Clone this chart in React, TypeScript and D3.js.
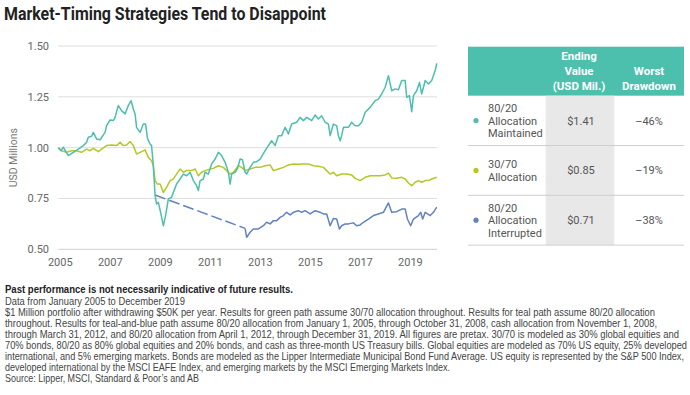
import React from 'react';
import * as d3 from 'd3';

// [decimal year, USD millions]
const maintained: [number, number][] = [
  [2005.0, 1.0], [2005.11, 0.985], [2005.2, 1.002], [2005.4, 0.961], [2005.6, 0.977], [2005.8, 0.993],
  [2006.0, 1.01], [2006.13, 1.026], [2006.2, 1.051], [2006.33, 1.056], [2006.4, 1.075], [2006.53, 1.043],
  [2006.67, 1.039], [2006.87, 1.075], [2006.93, 1.108], [2007.07, 1.136], [2007.2, 1.133], [2007.27, 1.149],
  [2007.4, 1.207], [2007.53, 1.182], [2007.67, 1.166], [2007.8, 1.207], [2007.91, 1.231], [2008.0, 1.19],
  [2008.07, 1.166], [2008.13, 1.1], [2008.27, 1.075], [2008.4, 1.116], [2008.49, 1.116], [2008.57, 1.043],
  [2008.67, 1.018], [2008.73, 1.01], [2008.8, 0.911], [2008.87, 0.764], [2008.93, 0.723], [2009.0, 0.731],
  [2009.09, 0.682], [2009.2, 0.616], [2009.29, 0.666], [2009.4, 0.748], [2009.53, 0.756], [2009.6, 0.78],
  [2009.73, 0.821], [2009.87, 0.846], [2010.0, 0.87], [2010.13, 0.862], [2010.27, 0.879], [2010.4, 0.838],
  [2010.53, 0.813], [2010.6, 0.789], [2010.67, 0.838], [2010.8, 0.846], [2010.87, 0.879], [2011.0, 0.87],
  [2011.13, 0.92], [2011.27, 0.944], [2011.4, 0.977], [2011.53, 0.961], [2011.67, 0.928], [2011.8, 0.879],
  [2011.87, 0.821], [2011.93, 0.87], [2012.07, 0.879], [2012.16, 0.895], [2012.27, 0.944], [2012.36, 0.941],
  [2012.47, 0.879], [2012.53, 0.87], [2012.67, 0.903], [2012.8, 0.928], [2012.93, 0.931], [2013.07, 0.944],
  [2013.27, 0.985], [2013.4, 1.01], [2013.53, 1.034], [2013.67, 1.01], [2013.8, 1.059], [2013.93, 1.059],
  [2014.07, 1.1], [2014.2, 1.067], [2014.33, 1.116], [2014.53, 1.125], [2014.67, 1.149], [2014.8, 1.133],
  [2014.93, 1.149], [2015.13, 1.133], [2015.27, 1.161], [2015.4, 1.141], [2015.53, 1.157], [2015.67, 1.125],
  [2015.8, 1.116], [2015.87, 1.059], [2016.0, 1.116], [2016.13, 1.108], [2016.2, 1.059], [2016.27, 1.034],
  [2016.33, 1.059], [2016.4, 1.1], [2016.6, 1.1], [2016.73, 1.125], [2016.87, 1.108], [2017.0, 1.108],
  [2017.13, 1.125], [2017.27, 1.174], [2017.47, 1.198], [2017.67, 1.231], [2017.8, 1.239], [2017.93, 1.264],
  [2018.07, 1.297], [2018.2, 1.354], [2018.33, 1.28], [2018.47, 1.289], [2018.6, 1.285], [2018.73, 1.33],
  [2018.87, 1.33], [2018.93, 1.248], [2019.04, 1.256], [2019.13, 1.177], [2019.2, 1.256], [2019.33, 1.28],
  [2019.44, 1.321], [2019.53, 1.264], [2019.67, 1.33], [2019.8, 1.313], [2019.93, 1.33], [2020.07, 1.379],
  [2020.13, 1.415],
];

const conservative: [number, number][] = [
  [2005.0, 1.0], [2005.13, 0.985], [2005.33, 0.977], [2005.53, 0.985], [2005.73, 0.985], [2005.93, 0.977],
  [2006.13, 0.993], [2006.27, 0.985], [2006.4, 0.997], [2006.6, 0.98], [2006.73, 0.993], [2006.93, 1.01],
  [2007.13, 1.013], [2007.33, 1.01], [2007.47, 1.026], [2007.6, 1.01], [2007.73, 1.013], [2007.87, 1.03],
  [2008.0, 1.01], [2008.13, 0.969], [2008.27, 0.977], [2008.47, 0.989], [2008.6, 0.952], [2008.73, 0.936],
  [2008.8, 0.911], [2008.87, 0.838], [2008.96, 0.821], [2009.07, 0.821], [2009.2, 0.78], [2009.33, 0.805],
  [2009.47, 0.838], [2009.6, 0.846], [2009.73, 0.87], [2009.87, 0.895], [2010.0, 0.879], [2010.13, 0.887],
  [2010.33, 0.887], [2010.47, 0.895], [2010.6, 0.862], [2010.73, 0.879], [2010.87, 0.887], [2011.0, 0.892],
  [2011.2, 0.898], [2011.4, 0.911], [2011.6, 0.903], [2011.73, 0.887], [2011.87, 0.87], [2012.0, 0.879],
  [2012.2, 0.911], [2012.33, 0.903], [2012.47, 0.887], [2012.67, 0.895], [2012.87, 0.903], [2013.07, 0.903],
  [2013.27, 0.911], [2013.47, 0.915], [2013.6, 0.887], [2013.8, 0.895], [2014.0, 0.903], [2014.2, 0.915],
  [2014.4, 0.92], [2014.6, 0.918], [2014.8, 0.92], [2015.0, 0.92], [2015.2, 0.911], [2015.4, 0.908],
  [2015.6, 0.903], [2015.73, 0.887], [2015.87, 0.87], [2016.0, 0.879], [2016.13, 0.862], [2016.33, 0.87],
  [2016.53, 0.87], [2016.73, 0.866], [2016.87, 0.849], [2017.07, 0.838], [2017.27, 0.854], [2017.47, 0.862],
  [2017.67, 0.862], [2017.87, 0.862], [2018.07, 0.866], [2018.2, 0.875], [2018.33, 0.851], [2018.53, 0.849],
  [2018.73, 0.854], [2018.87, 0.846], [2019.0, 0.826], [2019.13, 0.813], [2019.27, 0.83], [2019.4, 0.838],
  [2019.53, 0.83], [2019.67, 0.838], [2019.8, 0.838], [2019.93, 0.846], [2020.13, 0.854],
];

// cash period, Nov 2008 - Mar 2012 (dashed)
const interruptedCash: [number, number][] = [
  [2008.87, 0.767], [2012.47, 0.603],
];

const interrupted: [number, number][] = [
  [2012.47, 0.603], [2012.53, 0.559], [2012.67, 0.584], [2012.8, 0.6], [2013.0, 0.6], [2013.2, 0.616],
  [2013.33, 0.633], [2013.47, 0.625], [2013.6, 0.641], [2013.73, 0.641], [2013.87, 0.657], [2014.0, 0.666],
  [2014.13, 0.682], [2014.27, 0.669], [2014.4, 0.682], [2014.6, 0.69], [2014.73, 0.682], [2014.87, 0.69],
  [2015.07, 0.674], [2015.27, 0.69], [2015.47, 0.682], [2015.6, 0.674], [2015.73, 0.674], [2015.87, 0.616],
  [2016.0, 0.652], [2016.13, 0.649], [2016.24, 0.6], [2016.33, 0.616], [2016.47, 0.625], [2016.6, 0.625],
  [2016.8, 0.63], [2016.93, 0.616], [2017.07, 0.62], [2017.2, 0.633], [2017.4, 0.649], [2017.6, 0.666],
  [2017.8, 0.674], [2018.0, 0.682], [2018.2, 0.728], [2018.33, 0.682], [2018.53, 0.685], [2018.73, 0.698],
  [2018.87, 0.698], [2018.96, 0.649], [2019.09, 0.616], [2019.2, 0.649], [2019.4, 0.666], [2019.49, 0.682],
  [2019.57, 0.649], [2019.67, 0.682], [2019.87, 0.666], [2020.0, 0.682], [2020.13, 0.707],
];

const yTicks = [0.5, 0.75, 1.0, 1.25, 1.5];
const xTicks = [2005, 2007, 2009, 2011, 2013, 2015, 2017, 2019];

const rowLabels = [
  ['80/20', 'Allocation', 'Maintained'],
  ['30/70', 'Allocation'],
  ['80/20', 'Allocation', 'Interrupted'],
];
const endingValues = ['$1.41', '$0.85', '$0.71'];
const worstDrawdowns = ['\u201346%', '\u201319%', '\u201338%'];

// text, right end of the line in px
const footnotes: [string, number][] = [
  ['Data from January 2005 to December 2019', 185],
  ['$1 Million portfolio after withdrawing $50K per year. Results for green path assume 30/70 allocation throughout. Results for teal path assume 80/20 allocation', 655],
  ['throughout. Results for teal-and-blue path assume 80/20 allocation from January 1, 2005, through October 31, 2008, cash allocation from November 1, 2008,', 657],
  ['through March 31, 2012, and 80/20 allocation from April 1, 2012, through December 31, 2019. All figures are pretax. 30/70 is modeled as 30% global equities and', 679],
  ['70% bonds, 80/20 as 80% global equities and 20% bonds, and cash as three-month US Treasury bills. Global equities are modeled as 70% US equity, 25% developed', 687],
  ['international, and 5% emerging markets. Bonds are modeled as the Lipper Intermediate Municipal Bond Fund Average. US equity is represented by the S&P 500 Index,', 684],
  ['developed international by the MSCI EAFE Index, and emerging markets by the MSCI Emerging Markets Index.', 450],
  ['Source: Lipper, MSCI, Standard & Poor\u2019s and AB', 199],
];

const TEAL = '#4dbfad';
const GREEN = '#b5c724';
const BLUE = '#6282c1';
const seriesColors = [TEAL, GREEN, BLUE];

const W = 690;
const H = 395;
const font = 'Roboto, "DejaVu Sans", sans-serif';
const noteFont = '"Liberation Sans", Arial, sans-serif';
const SX = 0.82; // condensed look of the notes

export default function App() {
  const x = d3.scaleLinear().domain([2005, 2020.13]).range([58.3, 436.7]);
  const y = d3.scaleLinear().domain([0.5, 1.5]).range([249.3, 46]);
  const line = d3.line<[number, number]>().x(d => x(d[0])).y(d => y(d[1]));

  // table layout
  const tLeft = 468, tRight = 684;
  const headTop = 46.7, headBottom = 95.7;
  const rowH = 49.8;
  const colEnd = 579, colDraw = 649;

  return (
    <svg width={W} height={H} style={{ position: 'absolute', left: 0, top: 0, background: '#fff' }}
      fontFamily={font}>
      <text transform="translate(4,20) scale(0.92,1)" fontSize={18} fontWeight={700} fill="#222"
        textLength={322 / 0.92} lengthAdjust="spacingAndGlyphs">Market-Timing Strategies Tend to Disappoint</text>

      {yTicks.map(t => (
        <g key={t}>
          <line x1={58.3} x2={437} y1={y(t)} y2={y(t)} stroke={t === 0.5 ? '#d0d0d0' : '#dedede'} strokeWidth={1} />
          <text x={49} y={y(t) + 4} fontSize={11} fill="#666" textAnchor="end">{t.toFixed(2)}</text>
        </g>
      ))}
      {xTicks.map(t => (
        <text key={t} x={x(t) + 2} y={266} fontSize={11} fill="#666" textAnchor="middle">{t}</text>
      ))}
      <text transform={`translate(17,${(y(0.5) + y(1.5)) / 2 + 10}) rotate(-90)`} fontSize={10.5} fill="#777"
        textAnchor="middle">USD Millions</text>

      <path d={line(conservative) || ''} fill="none" stroke={GREEN} strokeWidth={1.5} strokeLinejoin="round" />
      <path d={line(interruptedCash) || ''} fill="none" stroke={BLUE} strokeWidth={1.5} strokeDasharray="11 4" />
      <path d={line(interrupted) || ''} fill="none" stroke={BLUE} strokeWidth={1.5} strokeLinejoin="round" />
      <path d={line(maintained) || ''} fill="none" stroke={TEAL} strokeWidth={1.5} strokeLinejoin="round" />

      {/* table */}
      <rect x={tLeft} y={headTop} width={tRight - tLeft} height={headBottom - headTop} fill={TEAL} />
      <rect x={545.7} y={headBottom} width={68.6} height={rowH * 3} fill="#e8e8e8" />
      <g fill="#fff" fontSize={11.5} fontWeight={700} textAnchor="middle">
        <text x={colEnd} y={60}>Ending</text>
        <text x={colEnd} y={75}>Value</text>
        <text x={colEnd} y={90}>(USD Mil.)</text>
        <text x={colDraw} y={75}>Worst</text>
        <text x={colDraw} y={90}>Drawdown</text>
      </g>
      {rowLabels.map((lines, i) => {
        const mid = headBottom + rowH * i + rowH / 2;
        const lh = 12.7;
        const top = mid - ((lines.length - 1) * lh) / 2;
        return (
          <g key={i}>
            <line x1={tLeft} x2={tRight} y1={headBottom + rowH * (i + 1)} y2={headBottom + rowH * (i + 1)}
              stroke="#cfcfcf" strokeWidth={1} />
            <circle cx={476} cy={mid} r={2.6} fill={seriesColors[i]} />
            {lines.map((s, j) => (
              <text key={j} x={488} y={top + j * lh + 4} fontSize={11} fill="#555">{s}</text>
            ))}
            <text x={colEnd + 2} y={mid + 4} fontSize={11} fill="#555" textAnchor="middle">{endingValues[i]}</text>
            <text x={colDraw} y={mid + 4} fontSize={11} fill="#555" textAnchor="middle">{worstDrawdowns[i]}</text>
          </g>
        );
      })}

      {/* notes */}
      <g fontFamily={noteFont}>
        <text transform={`translate(5,293) scale(${SX},1)`} fontSize={10.5} fontWeight={700} fill="#222"
          textLength={288 / SX} lengthAdjust="spacingAndGlyphs">Past performance is not necessarily indicative of future results.</text>
        {footnotes.map(([s, end], i) => (
          <text key={i} transform={`translate(5,${305 + i * 11}) scale(${SX},1)`} fontSize={10.5} fill="#444"
            textLength={(end - 5) / SX} lengthAdjust="spacingAndGlyphs">{s}</text>
        ))}
      </g>
    </svg>
  );
}
